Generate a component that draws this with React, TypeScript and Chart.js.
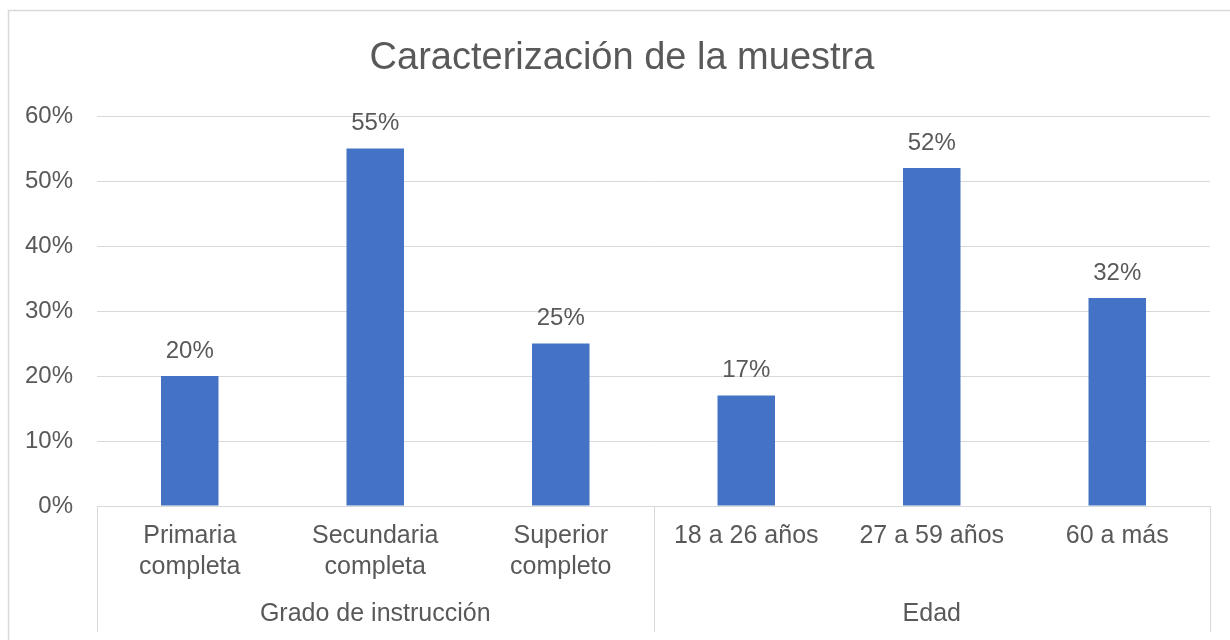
import React, { useEffect, useRef } from "react";
import { Chart, registerables } from "chart.js";

Chart.register(...registerables);

const TITLE = "Caracterización de la muestra";
const categories: string[][] = [
  ["Primaria", "completa"],
  ["Secundaria", "completa"],
  ["Superior", "completo"],
  ["18 a 26 años"],
  ["27 a 59 años"],
  ["60 a más"],
];
const values = [20, 55, 25, 17, 52, 32];
const groups = ["Grado de instrucción", "Edad"];
const groupSizes = [3, 3];
const yTicks = [0, 10, 20, 30, 40, 50, 60];

const FONT = "'Liberation Sans', Arial, sans-serif";
const TEXT = "#595959";
const LINE = "#D9D9D9";

const decorPlugin = {
  id: "decor",
  beforeDraw(chart: any) {
    const ctx = chart.ctx;
    ctx.save();
    ctx.fillStyle = "#FFFFFF";
    ctx.fillRect(0, 0, chart.width, chart.height);
    ctx.strokeStyle = LINE;
    ctx.lineWidth = 1.5;
    ctx.strokeRect(8.5, 10.5, chart.width + 20, chart.height + 20);
    ctx.restore();
  },
  afterDraw(chart: any) {
    const ctx = chart.ctx;
    const x = chart.scales.x;
    const area = chart.chartArea;
    ctx.save();
    // title
    ctx.fillStyle = TEXT;
    ctx.font = `38px ${FONT}`;
    ctx.textAlign = "center";
    ctx.textBaseline = "middle";
    ctx.fillText(TITLE, 622, 59);

    // data labels
    const meta = chart.getDatasetMeta(0);
    ctx.font = `24px ${FONT}`;
    ctx.textBaseline = "bottom";
    meta.data.forEach((bar: any, i: number) => {
      ctx.fillText(values[i] + "%", bar.x, bar.y - 13);
    });

    // group separators and labels
    ctx.strokeStyle = LINE;
    ctx.lineWidth = 1;
    const bottom = 632;
    const boundaries: number[] = [area.left];
    let idx = 0;
    groupSizes.forEach((n) => {
      idx += n;
      const px =
        idx >= categories.length
          ? area.right
          : (x.getPixelForValue(idx - 1) + x.getPixelForValue(idx)) / 2;
      boundaries.push(px);
    });
    boundaries.forEach((bx) => {
      const xx = Math.round(bx) + 0.5;
      ctx.beginPath();
      ctx.moveTo(xx, area.bottom);
      ctx.lineTo(xx, bottom);
      ctx.stroke();
    });
    ctx.font = `25px ${FONT}`;
    ctx.textBaseline = "middle";
    groups.forEach((g, i) => {
      const cx = (boundaries[i] + boundaries[i + 1]) / 2;
      ctx.fillText(g, cx, 614);
    });
    ctx.restore();
  },
};

export default function App() {
  const ref = useRef<HTMLCanvasElement | null>(null);
  useEffect(() => {
    if (!ref.current) return;
    const chart = new Chart(ref.current, {
      type: "bar",
      data: {
        labels: categories as any,
        datasets: [
          {
            data: values,
            backgroundColor: "#4472C4",
            barPercentage: 0.31,
            categoryPercentage: 1,
          },
        ],
      },
      options: {
        responsive: false,
        animation: false,
        layout: { padding: { left: 0, top: 116, right: 20, bottom: 0 } },
        plugins: {
          legend: { display: false },
          title: { display: false },
          tooltip: { enabled: false },
        },
        scales: {
          x: {
            grid: { display: false, drawTicks: false },
            border: { display: true, color: LINE, width: 1 },
            ticks: {
              color: TEXT,
              font: { family: FONT, size: 25, lineHeight: 1.25 },
              padding: 14,
              maxRotation: 0,
              autoSkip: false,
            },
            afterFit: (s: any) => {
              s.height = 134;
            },
          },
          y: {
            min: 0,
            max: 60,
            afterBuildTicks: (s: any) => {
              s.ticks = yTicks.map((v) => ({ value: v }));
            },
            grid: { color: LINE, drawTicks: false, lineWidth: 1 },
            border: { display: false },
            ticks: {
              color: TEXT,
              font: { family: FONT, size: 24 },
              padding: 24,
              callback: (v: any) => v + "%",
            },
            afterFit: (s: any) => {
              s.width = 97;
            },
          },
        },
      },
      plugins: [decorPlugin],
    });
    return () => chart.destroy();
  }, []);
  return (
    <div style={{ position: "fixed", left: 0, top: 0, width: 1230, height: 640 }}>
      <canvas ref={ref} width={1230} height={640} />
    </div>
  );
}
